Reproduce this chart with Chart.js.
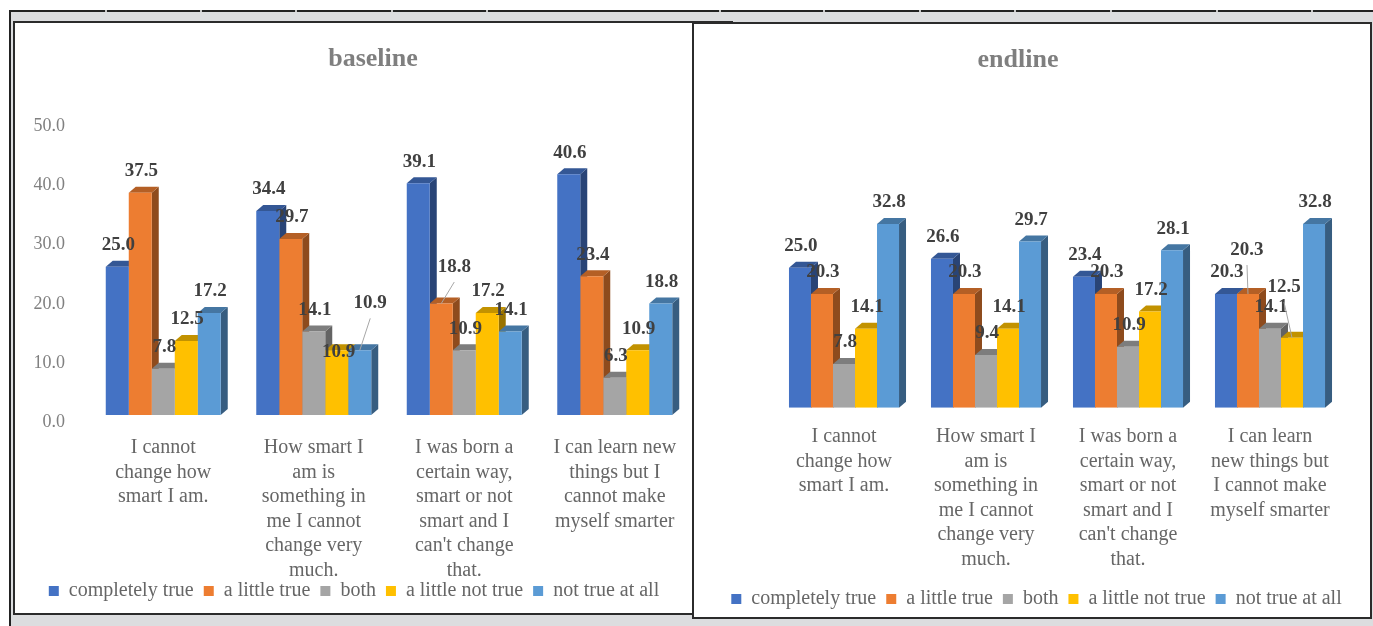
<!DOCTYPE html>
<html>
<head>
<meta charset="utf-8">
<title>baseline / endline</title>
<script src="https://cdn.jsdelivr.net/npm/chart.js@4.4.1/dist/chart.umd.min.js"></script>
<style>
  html, body { margin: 0; padding: 0; }
  body { width: 1373px; height: 626px; position: relative; overflow: hidden; background: #fff; }
  .sheet { position: absolute; left: 9px; top: 10px; right: 0; bottom: 0; background: #dcdddf;
           border-top: 2px solid #222; border-left: 2px solid #222; }
  .mark { position: absolute; top: 10px; width: 2px; height: 2px; background: #c8c8c8; }
  .box { position: absolute; background: #fff; border: 2px solid #2b2b2b; box-sizing: border-box; }
  #leftBox { left: 13px; top: 21px; width: 720px; height: 594px; }
  #rightBox { left: 692px; top: 22px; width: 680px; height: 597px; z-index: 2; }
  canvas { display: block; }
</style>
</head>
<body>
<div class="sheet"></div>
<div class="mark" style="left:105px"></div>
<div class="mark" style="left:200px"></div>
<div class="mark" style="left:295px"></div>
<div class="mark" style="left:391px"></div>
<div class="mark" style="left:486px"></div>
<div class="mark" style="left:719px"></div>
<div class="mark" style="left:823px"></div>
<div class="mark" style="left:919px"></div>
<div class="mark" style="left:1014px"></div>
<div class="mark" style="left:1110px"></div>
<div class="mark" style="left:1216px"></div>
<div class="mark" style="left:1311px"></div>
<div class="box" id="leftBox"><canvas id="baseline" width="716" height="590"></canvas></div>
<div class="box" id="rightBox"><canvas id="endline" width="676" height="593"></canvas></div>

<script>
// categories (the two panels wrap the last statement differently)
const baselineCategories = [
  ['I cannot', 'change how', 'smart I am.'],
  ['How smart I', 'am is', 'something in', 'me I cannot', 'change very', 'much.'],
  ['I was born a', 'certain way,', 'smart or not', 'smart and I', "can't change", 'that.'],
  ['I can learn new', 'things but I', 'cannot make', 'myself smarter']
];
const endlineCategories = [
  ['I cannot', 'change how', 'smart I am.'],
  ['How smart I', 'am is', 'something in', 'me I cannot', 'change very', 'much.'],
  ['I was born a', 'certain way,', 'smart or not', 'smart and I', "can't change", 'that.'],
  ['I can learn', 'new things but', 'I cannot make', 'myself smarter']
];

const seriesNames = ['completely true', 'a little true', 'both', 'a little not true', 'not true at all'];
const seriesColors = ['#4472C4', '#ED7D31', '#A5A5A5', '#FFC000', '#5B9BD5'];

// baseline, % of answers
const baselineCompletelyTrue = [25.0, 34.4, 39.1, 40.6];
const baselineLittleTrue     = [37.5, 29.7, 18.8, 23.4];
const baselineBoth           = [7.8, 14.1, 10.9, 6.3];
const baselineLittleNotTrue  = [12.5, 10.9, 17.2, 10.9];
const baselineNotTrueAtAll   = [17.2, 10.9, 14.1, 18.8];

// endline, % of answers
const endlineCompletelyTrue = [25.0, 26.6, 23.4, 20.3];
const endlineLittleTrue     = [20.3, 20.3, 20.3, 20.3];
const endlineBoth           = [7.8, 9.4, 10.9, 14.1];
const endlineLittleNotTrue  = [14.1, 14.1, 17.2, 12.5];
const endlineNotTrueAtAll   = [32.8, 29.7, 28.1, 32.8];

const yMin = 0, yMax = 50, yStep = 10;

// labels that were dragged off their bar ("dataset:index")
const baselineLabelMoves = {
  '3:1': { dx: 1, dy: 23.5 },
  '4:1': { dx: 9.5, dy: -25.5, leader: true },
  '1:2': { dx: 12, dy: -15, leader: true }
};
const endlineLabelMoves = {
  '1:3': { dx: -2, dy: -22.5, leader: true },
  '3:3': { dx: -9, dy: -29, leader: true }
};

Chart.defaults.font.family = "'Liberation Serif', 'Times New Roman', serif";
Chart.defaults.color = '#666';

function shade(hex, f) {
  const n = parseInt(hex.slice(1), 16);
  const r = Math.round(((n >> 16) & 255) * f);
  const g = Math.round(((n >> 8) & 255) * f);
  const b = Math.round((n & 255) * f);
  return `rgb(${r},${g},${b})`;
}

// side and top faces, drawn before the flat fronts so the next bar covers them
const bar3d = {
  id: 'bar3d',
  beforeDatasetsDraw(chart, args, opts) {
    const ctx = chart.ctx;
    const dx = opts.dx, dy = opts.dy;
    ctx.save();
    chart.data.datasets.forEach((ds, i) => {
      chart.getDatasetMeta(i).data.forEach(bar => {
        const { x, y, base, width } = bar.getProps(['x', 'y', 'base', 'width'], true);
        const l = x - width / 2, r = x + width / 2;
        ctx.fillStyle = shade(ds.backgroundColor, 0.6);
        ctx.beginPath();
        ctx.moveTo(r, y); ctx.lineTo(r + dx, y + dy);
        ctx.lineTo(r + dx, base + dy); ctx.lineTo(r, base);
        ctx.closePath(); ctx.fill();
        ctx.fillStyle = shade(ds.backgroundColor, 0.76);
        ctx.beginPath();
        ctx.moveTo(l, y); ctx.lineTo(r, y);
        ctx.lineTo(r + dx, y + dy); ctx.lineTo(l + dx, y + dy);
        ctx.closePath(); ctx.fill();
      });
    });
    ctx.restore();
  }
};

// value labels above the bars, with leader lines for the moved ones
const valueLabels = {
  id: 'valueLabels',
  afterDatasetsDraw(chart, args, opts) {
    const ctx = chart.ctx;
    ctx.save();
    ctx.font = "bold 19px 'Liberation Serif', 'Times New Roman', serif";
    ctx.textAlign = 'center';
    ctx.textBaseline = 'middle';
    chart.data.datasets.forEach((ds, i) => {
      chart.getDatasetMeta(i).data.forEach((bar, j) => {
        const move = opts.moves[i + ':' + j] || { dx: 0, dy: 0 };
        const lx = bar.x + 1 + move.dx;
        const ly = bar.y - opts.gap + move.dy;
        if (move.leader) {
          ctx.strokeStyle = '#a6a6a6';
          ctx.lineWidth = 1;
          ctx.beginPath();
          ctx.moveTo(lx, ly + 15);
          ctx.lineTo(bar.x, bar.y);
          ctx.stroke();
        }
        ctx.fillStyle = '#404040';
        ctx.fillText(ds.data[j].toFixed(1), lx, ly);
      });
    });
    ctx.restore();
  }
};

// slide the title / legend after layout
const boxNudge = {
  id: 'boxNudge',
  afterLayout(chart, args, opts) {
    const t = chart.titleBlock, lg = chart.legend;
    if (t) { t.left += opts.titleX; t.right += opts.titleX; }
    if (lg) {
      lg.left += opts.legendX; lg.right += opts.legendX;
      lg.top += opts.legendY; lg.bottom += opts.legendY;
    }
  }
};

function buildChart(id, cfg) {
  return new Chart(document.getElementById(id), {
    type: 'bar',
    data: {
      labels: cfg.categories,
      datasets: cfg.series.map((values, i) => ({
        label: seriesNames[i],
        data: values,
        backgroundColor: seriesColors[i],
        borderWidth: 0,
        categoryPercentage: cfg.groupWidth,
        barPercentage: 1
      }))
    },
    options: {
      responsive: false,
      animation: false,
      layout: { padding: cfg.padding },
      scales: {
        x: {
          grid: { display: false, drawTicks: false },
          border: { display: false },
          ticks: {
            color: '#666',
            padding: cfg.xTickPadding,
            maxRotation: 0,
            autoSkip: false,
            font: { size: 20, lineHeight: 1.225 }
          },
          afterFit: s => { s.height = cfg.xAxisHeight; }
        },
        y: {
          position: 'left',
          min: yMin,
          max: yMax,
          grid: { display: false, drawTicks: false },
          border: { display: false },
          ticks: {
            display: cfg.yTicks,
            stepSize: yStep,
            color: '#808080',
            padding: 23,
            labelOffset: 7.5,
            font: { size: 18 },
            callback: v => v.toFixed(1)
          },
          afterFit: s => { s.width = cfg.yWidth; }
        },
        // empty strip on the right of the plot
        gutter: {
          type: 'linear',
          position: 'right',
          grid: { display: false, drawTicks: false },
          border: { display: false },
          ticks: { display: false },
          afterFit: s => { s.width = cfg.gutter; }
        }
      },
      plugins: {
        title: {
          display: true,
          text: cfg.title,
          color: '#7f7f7f',
          font: { size: 26, weight: 'bold' },
          padding: { top: cfg.titleTop, bottom: cfg.titleGap }
        },
        legend: {
          position: 'bottom',
          labels: {
            boxWidth: 10,
            boxHeight: 10,
            padding: 10,
            color: '#666',
            font: { size: 20 }
          }
        },
        tooltip: { enabled: false },
        bar3d: { dx: 7, dy: -6 },
        valueLabels: { gap: 21.5, moves: cfg.moves },
        boxNudge: cfg.nudge
      }
    },
    plugins: [bar3d, valueLabels, boxNudge]
  });
}

buildChart('baseline', {
  title: 'baseline',
  categories: baselineCategories,
  series: [baselineCompletelyTrue, baselineLittleTrue, baselineBoth, baselineLittleNotTrue, baselineNotTrueAtAll],
  groupWidth: 0.764,
  yTicks: true,
  yWidth: 73,
  gutter: 41,
  padding: { left: 0, right: 0, top: 0, bottom: -10 },
  titleTop: 20.4,
  titleGap: 43.9,
  xTickPadding: 20.75,
  xAxisHeight: 168,
  moves: baselineLabelMoves,
  nudge: { titleX: 0, legendX: -19, legendY: -12 }
});

buildChart('endline', {
  title: 'endline',
  categories: endlineCategories,
  series: [endlineCompletelyTrue, endlineLittleTrue, endlineBoth, endlineLittleNotTrue, endlineNotTrueAtAll],
  groupWidth: 0.775,
  yTicks: false,
  yWidth: 79,
  gutter: 29,
  padding: { left: 0, right: 0, top: 0, bottom: 3.3 },
  titleTop: 20.4,
  titleGap: 52.1,
  xTickPadding: 17,
  xAxisHeight: 166,
  moves: endlineLabelMoves,
  nudge: { titleX: -14, legendX: 4.5, legendY: 5.3 }
});
</script>
</body>
</html>
